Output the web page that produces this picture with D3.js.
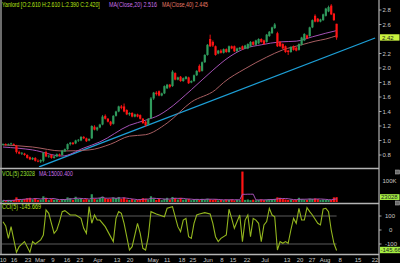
<!DOCTYPE html>
<html>
<head>
<meta charset="utf-8">
<script src="https://cdn.jsdelivr.net/npm/d3@7"></script>
<style>
  body { margin: 0; background: #000; }
  svg { display: block; font-family: "Liberation Sans", Arial, sans-serif; }
</style>
</head>
<body>
<svg id="chart" width="400" height="263"></svg>
<script>
// daily candles, Feb 10 -> Aug 6 (trading days)
const opens = [0.94,0.95,0.94,0.95,0.95,0.93,0.84,0.82,0.82,0.80,0.77,0.74,0.76,0.72,0.71,0.72,0.84,0.78,0.80,0.76,
  0.78,0.81,0.80,0.85,0.88,0.95,0.97,0.96,1.00,1.00,1.05,1.03,1.00,1.03,1.19,1.15,1.18,1.22,1.34,1.30,
  1.26,1.23,1.34,1.40,1.47,1.47,1.42,1.36,1.38,1.33,1.36,1.35,1.30,1.26,1.22,1.31,1.58,1.66,1.68,1.62,
  1.65,1.72,1.77,1.75,1.93,1.84,1.88,1.82,1.85,1.87,1.80,1.82,1.90,2.03,1.96,2.08,2.18,2.40,2.36,2.30,
  2.20,2.24,2.21,2.26,2.22,2.30,2.30,2.23,2.26,2.30,2.27,2.27,2.30,2.36,2.32,2.34,2.40,2.38,2.36,2.44,
  2.48,2.55,2.48,2.36,2.33,2.30,2.24,2.22,2.30,2.28,2.25,2.32,2.38,2.45,2.44,2.56,2.72,2.68,2.64,2.66,
  2.72,2.78,2.86,2.75,2.61];
const highs = [0.96,0.96,0.96,0.97,0.96,0.94,0.86,0.84,0.83,0.81,0.78,0.77,0.77,0.74,0.74,0.84,0.86,0.80,0.81,0.79,
  0.82,0.82,0.87,0.89,0.96,0.98,0.98,1.01,1.02,1.06,1.06,1.04,1.03,1.21,1.21,1.19,1.23,1.35,1.36,1.31,
  1.27,1.35,1.41,1.48,1.49,1.51,1.43,1.39,1.39,1.37,1.37,1.36,1.31,1.27,1.31,1.60,1.67,1.68,1.69,1.66,
  1.76,1.78,1.78,1.97,1.94,1.88,1.89,1.87,1.89,1.88,1.83,1.91,1.97,2.05,2.09,2.19,2.33,2.46,2.38,2.31,
  2.25,2.26,2.27,2.27,2.31,2.31,2.31,2.28,2.29,2.31,2.32,2.34,2.37,2.37,2.39,2.41,2.41,2.39,2.47,2.51,
  2.57,2.62,2.50,2.37,2.34,2.31,2.25,2.30,2.31,2.29,2.34,2.43,2.48,2.46,2.57,2.67,2.74,2.69,2.68,2.75,
  2.83,2.86,2.88,2.76,2.61];
const lows = [0.93,0.93,0.93,0.94,0.93,0.82,0.81,0.80,0.79,0.75,0.73,0.73,0.71,0.70,0.69,0.70,0.77,0.76,0.75,0.75,
  0.77,0.78,0.79,0.84,0.87,0.93,0.94,0.95,0.98,0.99,1.02,0.98,0.99,1.02,1.14,1.13,1.17,1.21,1.29,1.25,
  1.20,1.22,1.33,1.39,1.43,1.39,1.35,1.34,1.32,1.32,1.32,1.29,1.23,1.19,1.21,1.30,1.56,1.62,1.61,1.61,
  1.64,1.71,1.72,1.74,1.83,1.83,1.81,1.81,1.84,1.78,1.79,1.81,1.89,1.94,1.95,2.07,2.17,2.29,2.29,2.17,
  2.19,2.20,2.20,2.21,2.21,2.26,2.22,2.22,2.25,2.25,2.26,2.26,2.29,2.31,2.31,2.33,2.35,2.32,2.35,2.43,
  2.47,2.54,2.29,2.29,2.26,2.21,2.18,2.21,2.24,2.23,2.24,2.31,2.37,2.40,2.43,2.55,2.63,2.63,2.63,2.65,
  2.71,2.77,2.73,2.65,2.39];
const closes = [0.95,0.94,0.95,0.96,0.94,0.84,0.82,0.83,0.80,0.76,0.74,0.76,0.72,0.71,0.73,0.83,0.78,0.79,0.76,0.78,
  0.81,0.79,0.86,0.88,0.95,0.97,0.95,1.00,1.01,1.05,1.03,0.99,1.02,1.20,1.15,1.18,1.22,1.33,1.30,1.26,
  1.22,1.34,1.40,1.47,1.45,1.40,1.36,1.38,1.33,1.36,1.33,1.30,1.24,1.21,1.30,1.58,1.66,1.64,1.62,1.65,
  1.75,1.77,1.74,1.95,1.84,1.87,1.82,1.86,1.88,1.79,1.82,1.90,1.96,1.95,2.08,2.18,2.32,2.30,2.31,2.18,
  2.24,2.21,2.26,2.22,2.30,2.27,2.23,2.27,2.28,2.26,2.31,2.33,2.36,2.32,2.38,2.40,2.36,2.33,2.46,2.50,
  2.56,2.60,2.30,2.30,2.27,2.22,2.22,2.29,2.25,2.24,2.33,2.42,2.47,2.41,2.56,2.66,2.64,2.64,2.67,2.74,
  2.82,2.84,2.74,2.66,2.42];
// volume in thousands
const volumes = [8,6,9,7,10,22,12,9,14,18,20,12,19,10,11,27,20,9,15,11,
  13,8,14,12,22,18,10,25,15,17,12,14,10,37,16,12,20,26,18,14,
  16,22,18,24,15,21,12,10,14,9,11,13,18,16,12,27,18,10,14,9,
  16,20,11,24,19,12,20,11,13,15,9,12,14,10,15,12,16,13,10,14,
  8,10,9,12,11,13,8,10,9,145,10,12,9,11,8,10,13,9,12,14,
  11,15,22,20,14,12,10,12,9,11,20,14,12,10,16,15,17,14,10,12,
  10,10,10,22,23.028];

// moving averages read at sample days
const ma20Day = [0,11,22,30,36,47,53,58,61,70,78,84,90,96,103,109,115,120,124];
const ma20Val = [0.91,0.87,0.786,0.896,0.98,1.21,1.28,1.35,1.42,1.70,1.97,2.15,2.27,2.32,2.36,2.37,2.43,2.48,2.516];
const ma40Day = [0,11,22,32,40,47,53,61,70,79,82,90,98,104,111,116,120,124];
const ma40Val = [0.94,0.91,0.855,0.87,0.95,1.06,1.08,1.24,1.53,1.70,1.80,1.99,2.15,2.25,2.32,2.37,2.40,2.445];

// trend line ends [day, price]
const trendDay = [13.4, 138.3];
const trendVal = [0.635, 2.414];

// CCI(5) vertices
const cciDay = [0,1,2,3,5,6,8,10,11,12,14,15,16,17,18,19,20,21,22,23,25,27,29,30,31,32,33,34,35,36,38,41,42,43,44,45,47,48,50,51,
  52,53,54,55,57,60,61,63,64,65,66,67,68,69,70,71,72,73,75,77,78,79,80,81,83,84,85,86,88,89,90,91,92,93,94,95,96,97,98,99,
  100,101,102,103,104,105,106,107,108,109,110,111,112,113,114,115,117,118,119,120,121,122,123,124];
const cciVal = [59,29,-59,24,-159,-119,-83,-159,-83,-100,-71,-36,143,119,48,-24,0,60,131,138,107,107,83,12,-24,167,48,107,71,71,24,-83,83,131,119,48,-143,-119,48,-24,
  -131,-143,-48,131,114,95,155,167,95,24,-12,71,83,-48,-60,48,107,114,124,114,48,-48,-83,-60,-36,148,83,12,107,-83,71,107,-48,83,71,48,-83,36,60,155,
  107,95,-143,-83,-95,-83,-95,0,83,48,155,71,71,160,131,107,48,36,150,155,131,0,-95,-146];

const priceTicks = [0.8,1.0,1.2,1.4,1.6,1.8,2.0,2.2,2.6,2.8];
const cciTicks = [100,0,-100];
const dateLabels = ["10","16","23","Mar","9","16","23","Apr","13","20","May","11","18","25","Jun","8","15","22","Jul","13","20","27","Aug","8","15","22"];
const dateDay = [0,4.1,9.3,13.8,18.6,23.8,28.6,35.3,42.4,47.2,55.8,61,66.5,70.6,76.2,81.4,85.5,90.7,97.4,105.6,110.4,114.9,119.7,125.3,132,138.3];

const svg = d3.select("#chart");
const axisX = 379;
const green = "#2f9a5c", red = "#ff1414", gray = "#b4b4b4", label = "#c8c8c8";

const x = d3.scaleLinear().domain([0, 124]).range([3, 336.6]);
const yP = d3.scaleLinear().domain([0.8, 2.8]).range([155, 10]);
const yV = d3.scaleLinear().domain([0, 100]).range([202, 181]);
const yC = d3.scaleLinear().domain([-100, 100]).range([244, 216]);

svg.append("rect").attr("width", 400).attr("height", 263).attr("fill", "#000");

const defs = svg.append("defs");
[["clipMain", 0, 167], ["clipVol", 170, 202.5], ["clipCci", 205, 254]].forEach(([id, y0, y1]) => {
    defs.append("clipPath").attr("id", id)
        .append("rect").attr("x", 1.5).attr("y", y0).attr("width", axisX - 1.5).attr("height", y1 - y0);
});

/* main price panel */
const main = svg.append("g").attr("clip-path", "url(#clipMain)");

main.append("line")
    .attr("x1", x(trendDay[0])).attr("y1", yP(trendVal[0]))
    .attr("x2", x(trendDay[1])).attr("y2", yP(trendVal[1]))
    .attr("stroke", "#1d9fd6").attr("stroke-width", 1.3);

const maLine = d3.line().x(d => x(d[0])).y(d => yP(d[1])).curve(d3.curveMonotoneX);
main.append("path").attr("d", maLine(d3.zip(ma40Day, ma40Val)))
    .attr("fill", "none").attr("stroke", "#a85e62").attr("stroke-width", 1);
main.append("path").attr("d", maLine(d3.zip(ma20Day, ma20Val)))
    .attr("fill", "none").attr("stroke", "#a451b4").attr("stroke-width", 1);

const candles = d3.range(closes.length);
const candle = main.selectAll("g.candle").data(candles).join("g")
    .attr("class", "candle")
    .attr("fill", i => closes[i] >= opens[i] ? green : red)
    .attr("stroke", i => closes[i] >= opens[i] ? green : red);
candle.append("line")
    .attr("x1", i => x(i)).attr("x2", i => x(i))
    .attr("y1", i => yP(highs[i])).attr("y2", i => yP(lows[i]))
    .attr("stroke-width", 0.9);
candle.append("rect")
    .attr("stroke", "none")
    .attr("x", i => x(i) - 1.1).attr("width", 2.2)
    .attr("y", i => yP(Math.max(opens[i], closes[i])))
    .attr("height", i => Math.max(0.8, Math.abs(yP(opens[i]) - yP(closes[i]))));

/* volume panel */
const vol = svg.append("g").attr("clip-path", "url(#clipVol)");
vol.selectAll("rect").data(candles).join("rect")
    .attr("x", i => x(i) - 1.1).attr("width", 2.2)
    .attr("y", i => yV(volumes[i]))
    .attr("height", i => yV(0) - yV(volumes[i]))
    .attr("fill", i => closes[i] >= opens[i] ? green : red);
const volMa = candles.map(i => [i, d3.mean(volumes.slice(Math.max(0, i - 4), i + 1))]);
vol.append("path")
    .attr("d", d3.line().x(d => x(d[0])).y(d => yV(d[1]))(volMa))
    .attr("fill", "none").attr("stroke", "#a451b4").attr("stroke-width", 1);

/* cci panel */
const cci = svg.append("g").attr("clip-path", "url(#clipCci)");
cci.selectAll("line.lvl").data([100, -100]).join("line")
    .attr("class", "lvl")
    .attr("x1", 1.5).attr("x2", x(124))
    .attr("y1", d => yC(d)).attr("y2", d => yC(d))
    .attr("stroke", "#5a5a5a").attr("stroke-width", 1);
cci.append("path")
    .attr("d", d3.line().x(d => x(d[0])).y(d => yC(d[1]))(d3.zip(cciDay, cciVal)))
    .attr("fill", "none").attr("stroke", "#93b61e").attr("stroke-width", 1.1);

/* frame */
svg.append("line").attr("x1", 1).attr("x2", 1).attr("y1", 0).attr("y2", 255)
    .attr("stroke", gray).attr("stroke-width", 1.2);
svg.append("line").attr("x1", axisX).attr("x2", axisX).attr("y1", 0).attr("y2", 263)
    .attr("stroke", gray).attr("stroke-width", 1.2);
[168.5, 203.5, 254.5].forEach(y => {
    svg.append("line").attr("x1", 0).attr("x2", axisX).attr("y1", y).attr("y2", y)
        .attr("stroke", gray).attr("stroke-width", 1.6);
});
[172, 203].forEach(y => {
    svg.append("rect").attr("x", 395.5).attr("y", y - 2).attr("width", 4).attr("height", 4)
        .attr("fill", "#6a6a6a").attr("stroke", "#aaa").attr("stroke-width", 0.6);
});

/* right axis */
const txt = (g, s, px, py, color, anchor) => g.append("text")
    .attr("x", px).attr("y", py).attr("dy", "0.35em")
    .attr("font-size", 6).attr("fill", color).attr("text-anchor", anchor || "start").text(s);

priceTicks.forEach(v => {
    svg.append("line").attr("x1", axisX).attr("x2", axisX + 2.5).attr("y1", yP(v)).attr("y2", yP(v))
        .attr("stroke", label).attr("stroke-width", 0.8);
    txt(svg, d3.format(".1f")(v), axisX + 3.5, yP(v), label);
});
svg.append("rect").attr("x", axisX + 1).attr("y", yP(closes[124]) - 3.3).attr("width", 19.5).attr("height", 6.4)
    .attr("fill", "#c9f23f");
txt(svg, closes[124].toFixed(2), axisX + 3, yP(closes[124]), "#222");

txt(svg, "100K", axisX + 3.5, yV(100), label);
svg.append("rect").attr("x", axisX + 1).attr("y", yV(23.028) - 3).attr("width", 19.5).attr("height", 5.8)
    .attr("fill", "#a6f043");
txt(svg, "23028", axisX + 2, yV(23.028), "#222");

cciTicks.forEach(v => {
    svg.append("line").attr("x1", axisX).attr("x2", axisX + 2.5).attr("y1", yC(v)).attr("y2", yC(v))
        .attr("stroke", label).attr("stroke-width", 0.8);
    txt(svg, String(v), v === 0 ? axisX + 10 : axisX + 6, yC(v), label);
});
svg.append("rect").attr("x", axisX + 1).attr("y", 246.8).attr("width", 21).attr("height", 6.4)
    .attr("fill", "#a6f043");
txt(svg, "-145.66", axisX + 1.5, 250, "#222");

/* date axis */
dateLabels.forEach((s, k) => {
    txt(svg, s, x(dateDay[k]), 259.5, label, "middle");
});

/* legends, squeezed horizontally like the small bitmap font */
const legend = (s, px, py, color, len) => {
    const g = svg.append("g");
    const t = g.append("text").attr("font-size", 6.5).attr("fill", color).text(s);
    const k = len / t.node().getComputedTextLength();
    g.attr("transform", `translate(${px},${py}) scale(${k},1)`);
};
legend("Yanlord [O:2.610 H:2.610 L:2.390 C:2.420]", 2, 6.5, "#b7e314", 98);
legend("MA(Close,20) 2.516", 109, 6.5, "#c86ee6", 48);
legend("MA(Close,40) 2.445", 162, 6.5, "#e67a66", 46);
legend("VOL(5) 23028", 2, 175.5, "#9be034", 33);
legend("MA:15000.400", 39, 175.5, "#c86ee6", 34);
legend("CCI(5) -145.669", 2, 209, "#b7e314", 39);
</script>
</body>
</html>
